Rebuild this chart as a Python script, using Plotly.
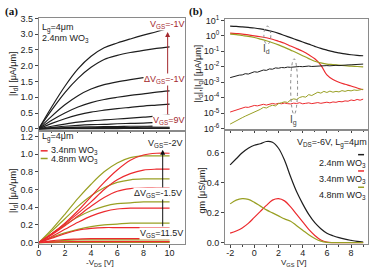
import plotly.graph_objects as go
import numpy as np

# ---------------- data ----------------
vds = [0, 1, 2, 3, 4, 5, 6, 7, 8, 9, 10]

# (a) top: 2.4 nm WO3, VGS = -1 ... 9 V
id_24nm = [
    [0, 0.70, 1.35, 1.90, 2.30, 2.57, 2.72, 2.85, 2.97, 3.08, 3.20],
    [0, 0.60, 1.15, 1.60, 1.95, 2.20, 2.33, 2.42, 2.49, 2.55, 2.60],
    [0, 0.40, 0.76, 1.05, 1.26, 1.40, 1.49, 1.56, 1.62, 1.67, 1.72],
    [0, 0.27, 0.50, 0.69, 0.83, 0.93, 1.00, 1.06, 1.11, 1.16, 1.20],
    [0, 0.17, 0.32, 0.44, 0.53, 0.59, 0.64, 0.68, 0.72, 0.75, 0.78],
    [0, 0.08, 0.15, 0.21, 0.25, 0.28, 0.31, 0.34, 0.37, 0.40, 0.44],
    [0, 0.04, 0.08, 0.11, 0.13, 0.14, 0.16, 0.17, 0.18, 0.20, 0.22],
    [0, 0.02, 0.04, 0.05, 0.06, 0.07, 0.07, 0.08, 0.08, 0.09, 0.10],
    [0, 0.01, 0.02, 0.03, 0.03, 0.04, 0.04, 0.04, 0.05, 0.05, 0.05],
    [0, 0.005, 0.01, 0.012, 0.014, 0.015, 0.016, 0.017, 0.018, 0.019, 0.02],
    [0, 0.002, 0.004, 0.006, 0.007, 0.008, 0.008, 0.009, 0.009, 0.01, 0.01],
]

# (a) bottom: 3.4 nm WO3 (red) and 4.8 nm WO3 (olive)
id_34nm = [
    [0, 0.10, 0.22, 0.36, 0.52, 0.68, 0.82, 0.93, 0.99, 1.01, 1.01],
    [0, 0.10, 0.21, 0.33, 0.46, 0.60, 0.71, 0.78, 0.82, 0.83, 0.83],
    [0, 0.09, 0.19, 0.30, 0.41, 0.51, 0.58, 0.61, 0.62, 0.62, 0.62],
    [0, 0.07, 0.15, 0.23, 0.30, 0.35, 0.38, 0.39, 0.39, 0.39, 0.39],
    [0, 0.05, 0.10, 0.14, 0.16, 0.17, 0.17, 0.17, 0.17, 0.17, 0.17],
    [0, 0.02, 0.035, 0.04, 0.045, 0.045, 0.045, 0.045, 0.045, 0.045, 0.045],
    [0, 0.006, 0.01, 0.012, 0.012, 0.012, 0.012, 0.012, 0.012, 0.012, 0.012],
]
id_48nm = [
    [0, 0.15, 0.32, 0.50, 0.66, 0.80, 0.90, 0.96, 0.98, 0.98, 0.98],
    [0, 0.13, 0.27, 0.41, 0.53, 0.62, 0.68, 0.71, 0.72, 0.72, 0.72],
    [0, 0.10, 0.20, 0.29, 0.36, 0.41, 0.44, 0.45, 0.46, 0.46, 0.46],
    [0, 0.06, 0.11, 0.15, 0.18, 0.20, 0.21, 0.22, 0.22, 0.22, 0.22],
    [0, 0.015, 0.025, 0.03, 0.03, 0.03, 0.03, 0.03, 0.03, 0.03, 0.03],
    [0, 0.004, 0.007, 0.008, 0.008, 0.008, 0.008, 0.008, 0.008, 0.008, 0.008],
    [0, 0.001, 0.002, 0.002, 0.002, 0.002, 0.002, 0.002, 0.002, 0.002, 0.002],
]

# (b) transfer curves, VDS = -6 V
vgs = [-2, -1.5, -1, -0.5, 0, 0.5, 1, 1.5, 2, 2.5, 3, 3.5, 4, 4.5, 5, 5.5,
       6, 6.5, 7, 7.5, 8, 8.5, 9]
id_b_24 = [4.3, 4.1, 3.8, 3.5, 3.2, 2.8, 2.35, 1.9, 1.45, 1.05, 0.76, 0.55,
           0.40, 0.29, 0.21, 0.155, 0.12, 0.095, 0.08, 0.068, 0.06, 0.055, 0.052]
id_b_34 = [1.5, 1.4, 1.3, 1.15, 1.0, 0.87, 0.75, 0.6, 0.45, 0.33, 0.22, 0.15,
           0.10, 0.06, 0.033, 0.013, 3.0e-3, 1.5e-3, 1.0e-3, 7.5e-4, 5.8e-4, 4.3e-4, 3.3e-4]
id_b_48 = [1.3, 1.2, 1.05, 0.92, 0.78, 0.62, 0.48, 0.36, 0.26, 0.18, 0.12, 0.08,
           0.052, 0.034, 0.023, 0.018, 0.015, 0.014, 0.013, 0.012, 0.011, 0.0105, 0.01]

vgs_fine = list(np.round(np.arange(-2, 9.001, 0.25), 2))
ig_b_24 = [2.0e-3, 2.3e-3, 2.5e-3, 2.9e-3, 3.0e-3, 3.6e-3, 3.4e-3, 4.2e-3, 4.8e-3,
           4.5e-3, 5.6e-3, 6.2e-3, 5.9e-3, 7.3e-3, 7.0e-3, 8.5e-3, 8.1e-3, 9.0e-3,
           8.7e-3, 9.6e-3, 9.3e-3, 1.0e-2, 9.8e-3, 1.05e-2, 1.02e-2, 1.08e-2, 1.12e-2,
           1.05e-2, 1.1e-2, 1.15e-2, 1.12e-2, 1.18e-2, 1.2e-2, 1.16e-2, 1.22e-2,
           1.25e-2, 1.2e-2, 1.28e-2, 1.3e-2, 1.33e-2, 1.35e-2, 1.4e-2, 1.38e-2,
           1.45e-2, 1.5e-2]
ig_b_34 = [1.2e-5, 1.4e-5, 1.7e-5, 1.9e-5, 2.2e-5, 2.5e-5, 2.4e-5, 2.9e-5, 3.2e-5,
           3.0e-5, 3.5e-5, 3.8e-5, 3.4e-5, 4.0e-5, 4.3e-5, 3.9e-5, 4.4e-5, 4.1e-5,
           4.6e-5, 4.2e-5, 4.0e-5, 4.5e-5, 4.3e-5, 4.8e-5, 4.1e-5, 4.4e-5, 4.7e-5,
           4.2e-5, 4.5e-5, 4.9e-5, 4.4e-5, 4.8e-5, 5.2e-5, 4.7e-5, 5.4e-5, 5.1e-5,
           5.8e-5, 5.5e-5, 6.3e-5, 6.0e-5, 7.2e-5, 6.6e-5, 7.8e-5, 7.0e-5, 8.2e-5]
ig_b_48 = [2.0e-6, 2.6e-6, 3.3e-6, 3.9e-6, 5.2e-6, 6.5e-6, 7.8e-6, 1.0e-5, 1.2e-5,
           1.5e-5, 1.8e-5, 2.4e-5, 2.2e-5, 2.8e-5, 3.3e-5, 3.0e-5, 4.2e-5, 4.8e-5,
           5.5e-5, 5.0e-5, 7.2e-5, 8.5e-5, 7.8e-5, 1.05e-4, 1.2e-4, 1.1e-4, 1.6e-4,
           1.4e-4, 1.9e-4, 2.3e-4, 2.0e-4, 2.6e-4, 2.2e-4, 2.7e-4, 2.3e-4, 2.6e-4,
           2.4e-4, 2.9e-4, 2.6e-4, 3.0e-4, 2.8e-4, 3.2e-4, 3.0e-4, 3.4e-4, 3.6e-4]

gm_24 = [0.52, 0.56, 0.60, 0.63, 0.65, 0.66, 0.675, 0.67, 0.63, 0.55, 0.44, 0.34,
         0.26, 0.19, 0.135, 0.095, 0.065, 0.048, 0.035, 0.025, 0.017, 0.01, 0.005]
gm_34 = [0.065, 0.08, 0.10, 0.13, 0.17, 0.21, 0.25, 0.285, 0.295, 0.28, 0.24, 0.19,
         0.14, 0.09, 0.05, 0.02, 0.005, 0.002, 0.002, 0.002, 0.002, 0.002, 0.002]
gm_48 = [0.26, 0.285, 0.295, 0.29, 0.27, 0.245, 0.22, 0.20, 0.18, 0.16, 0.145, 0.115,
         0.085, 0.055, 0.03, 0.012, 0.004, 0.002, 0.002, 0.002, 0.002, 0.002, 0.002]

log_ticks = [1e1, 1e0, 1e-1, 1e-2, 1e-3, 1e-4, 1e-5, 1e-6]
log_tick_text = ["10<sup>1</sup>", "10<sup>0</sup>", "10<sup>-1</sup>", "10<sup>-2</sup>",
                 "10<sup>-3</sup>", "10<sup>-4</sup>", "10<sup>-5</sup>", "10<sup>-6</sup>"]
vgs_ticks = [-2, 0, 2, 4, 6, 8]
vgs_tick_text = ["-2", "0", "2", "4", "6", "8"]

# ---------------- style ----------------
W, H = 369, 269
BLACK = "#1e1e1e"
RED = "#ec2a2e"
OLIVE = "#99a024"
DARKRED = "#a3282e"
FRAME = "#8a8a8a"
FONT = "Liberation Sans, Arial, sans-serif"


def px(x):
    return x / W


def py(y):
    return 1 - y / H


fig = go.Figure()


def add(x, y, xa, ya, color, width=1.2, shape="spline"):
    fig.add_trace(go.Scatter(x=x, y=y, xaxis=xa, yaxis=ya, mode="lines",
                             line=dict(color=color, width=width, shape=shape),
                             showlegend=False, hoverinfo="skip"))


for c in id_24nm:
    add(vds, c, "x", "y", BLACK)
for c in id_48nm:
    add(vds, c, "x2", "y2", OLIVE)
for c in id_34nm:
    add(vds, c, "x2", "y2", RED)

add(vgs, id_b_24, "x3", "y3", BLACK)
add(vgs, id_b_34, "x3", "y3", RED)
add(vgs, id_b_48, "x3", "y3", OLIVE)
add(vgs_fine, ig_b_24, "x3", "y3", BLACK, 1.0, "linear")
add(vgs_fine, ig_b_34, "x3", "y3", RED, 1.0, "linear")
add(vgs_fine, ig_b_48, "x3", "y3", OLIVE, 1.0, "linear")

add(vgs, gm_24, "x4", "y4", BLACK)
add(vgs, gm_34, "x4", "y4", RED)
add(vgs, gm_48, "x4", "y4", OLIVE)

tickfont = dict(family=FONT, size=9, color="#222")
common = dict(showline=True, mirror=True, linecolor=FRAME, linewidth=1,
              showgrid=False, zeroline=False, ticks="outside", ticklen=3,
              tickcolor="#444", tickwidth=1, tickfont=tickfont)

xa_dom = [px(36), px(183)]
xb_dom = [px(224), px(368)]

fig.update_layout(
    width=W, height=H, margin=dict(l=0, r=0, t=0, b=0),
    paper_bgcolor="white", plot_bgcolor="white",
    font=dict(family=FONT, size=9, color="#222"),
    xaxis=dict(domain=xa_dom, anchor="y", range=[0, 11.14], tickvals=[0, 2, 4, 6, 8, 10],
               showticklabels=False, minor=dict(tickvals=[1, 3, 5, 7, 9], ticks="outside",
                                                ticklen=2, tickcolor="#444"), **common),
    yaxis=dict(domain=[py(129), py(13)], anchor="x", range=[-0.03, 3.5], dtick=0.5,
               tickformat=".1f", **common),
    xaxis2=dict(domain=xa_dom, anchor="y2", range=[0, 11.14], tickvals=[0, 2, 4, 6, 8, 10],
                ticklabelstandoff=-3,
                minor=dict(tickvals=[1, 3, 5, 7, 9], ticks="outside", ticklen=2,
                           tickcolor="#444"), **common),
    yaxis2=dict(domain=[py(248), py(131)], anchor="x2", range=[-0.014, 1.254], dtick=0.2,
                tickformat=".1f", **common),
    xaxis3=dict(domain=xb_dom, anchor="y3", range=[-2.41, 9.4], tickvals=vgs_ticks,
                showticklabels=False, minor=dict(tickvals=[-1, 1, 3, 5, 7, 9], ticks="outside",
                                                 ticklen=2, tickcolor="#444"), **common),
    yaxis3=dict(domain=[py(128), py(14)], anchor="x3", type="log", range=[-6, 1.06],
                tickvals=log_ticks, ticktext=log_tick_text, **common),
    xaxis4=dict(domain=xb_dom, anchor="y4", range=[-2.41, 9.4], tickvals=vgs_ticks,
                ticktext=vgs_tick_text, ticklabelstandoff=-3,
                minor=dict(tickvals=[-1, 1, 3, 5, 7, 9], ticks="outside", ticklen=2,
                           tickcolor="#444"), **common),
    yaxis4=dict(domain=[py(248), py(130)], anchor="x4", range=[-0.006, 0.747], dtick=0.2,
                tickformat=".1f", **common),
)

ann = []


def text(x, y, s, size=9, color="#222", xanchor="left", yanchor="middle", angle=0, bg=None,
         font=FONT, bold=False):
    d = dict(x=px(x), y=py(y), xref="paper", yref="paper", text=("<b>%s</b>" % s) if bold else s,
             showarrow=False, xanchor=xanchor, yanchor=yanchor, textangle=angle,
             font=dict(family=font, size=size, color=color), borderpad=0)
    if bg:
        d["bgcolor"] = bg
    ann.append(d)


def arrow(x, y_head, y_tail, color):
    ann.append(dict(x=px(x), y=py(y_head), xref="paper", yref="paper", text="",
                    showarrow=True, ax=0, ay=y_tail - y_head, arrowhead=2, arrowsize=1,
                    arrowwidth=1, arrowcolor=color))


# panel labels
text(1, 6, "(a)", size=11, color="#111", font="Liberation Serif, Times New Roman, serif", bold=True)
text(187, 6, "(b)", size=11, color="#111", font="Liberation Serif, Times New Roman, serif", bold=True)

# axis titles
text(10, 70, "|I<sub>d</sub>| [μA/μm]", angle=-90, xanchor="center")
text(10, 192, "|I<sub>d</sub>| [μA/μm]", angle=-90, xanchor="center")
text(198, 70, "|I<sub>d</sub>|,|I<sub>g</sub>| [μA/μm]", angle=-90, xanchor="center")
text(201, 192, "gm [μS/μm]", angle=-90, xanchor="center")
text(98, 262, "-V<sub>DS</sub> [V]", xanchor="center", yanchor="top", size=8)
text(293, 262, "V<sub>GS</sub> [V]", xanchor="center", yanchor="top", size=8)

# (a) top annotations
arrow(166, 27, 112, DARKRED)
text(38, 23, "L<sub>g</sub>=4μm")
text(38, 34, "2.4nm WO<sub>3</sub>")
text(183, 19, "V<sub>GS</sub>=-1V", color=DARKRED, xanchor="right", bg="white")
text(183, 77, "ΔV<sub>GS</sub>=-1V", color=DARKRED, xanchor="right", bg="white")
text(183, 119, "V<sub>GS</sub>=9V", color=DARKRED, xanchor="right", bg="white")

# (a) bottom annotations
arrow(161, 150, 228, "#111")
text(38, 137, "L<sub>g</sub>=4μm")
text(47, 151, "3.4nm WO<sub>3</sub>")
text(47, 160, "4.8nm WO<sub>3</sub>")
text(181, 143, "V<sub>GS</sub>=-2V", xanchor="right", bg="white")
text(181, 196, "ΔV<sub>GS</sub>=-1.5V", xanchor="right", bg="white")
text(182, 237, "V<sub>GS</sub>=11.5V", xanchor="right", bg="white")

# (b) annotations
text(266, 45, "I<sub>d</sub>", size=10, color="#444", xanchor="center")
text(293, 119, "I<sub>g</sub>", size=10, color="#444", xanchor="center")
text(368, 143, "V<sub>DS</sub>=-6V, L<sub>g</sub>=4μm", xanchor="right")
text(367, 164, "2.4nm WO<sub>3</sub>", xanchor="right")
text(367, 181, "3.4nm WO<sub>3</sub>", xanchor="right")
text(367, 198, "4.8nm WO<sub>3</sub>", xanchor="right")

shapes = [
    dict(type="circle", xref="paper", yref="paper", x0=px(263), x1=px(270), y0=py(40), y1=py(21),
         line=dict(color="#888", width=1, dash="dot")),
    dict(type="circle", xref="paper", yref="paper", x0=px(290), x1=px(297), y0=py(113), y1=py(55),
         line=dict(color="#888", width=1, dash="dot")),
    dict(type="line", xref="paper", yref="paper", x0=px(38), x1=px(45), y0=py(151), y1=py(151),
         line=dict(color=RED, width=1.5)),
    dict(type="line", xref="paper", yref="paper", x0=px(38), x1=px(45), y0=py(159), y1=py(159),
         line=dict(color=OLIVE, width=1.5)),
    dict(type="line", xref="paper", yref="paper", x0=px(358), x1=px(364), y0=py(155), y1=py(155),
         line=dict(color=BLACK, width=1.5)),
    dict(type="line", xref="paper", yref="paper", x0=px(358), x1=px(364), y0=py(172), y1=py(172),
         line=dict(color=RED, width=1.5)),
    dict(type="line", xref="paper", yref="paper", x0=px(358), x1=px(364), y0=py(189), y1=py(189),
         line=dict(color=OLIVE, width=1.5)),
]

fig.update_layout(annotations=ann, shapes=shapes)
fig.write_html("out.html")
